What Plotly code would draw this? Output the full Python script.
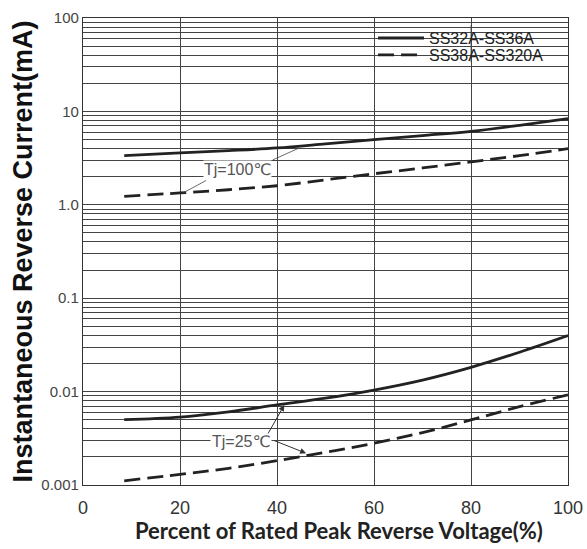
import plotly.graph_objects as go
import numpy as np

# Percent of rated peak reverse voltage
x_pct = [8.5, 20, 30, 40, 50, 60, 70, 80, 90, 100]

# Instantaneous reverse current (mA)
ss32_100 = [3.36, 3.59, 3.80, 4.06, 4.49, 4.99, 5.51, 6.12, 7.10, 8.37]
ss38_100 = [1.23, 1.34, 1.45, 1.60, 1.85, 2.15, 2.48, 2.88, 3.36, 3.99]
ss32_25 = [0.0050, 0.00532, 0.00606, 0.0072, 0.0085, 0.0104, 0.0133, 0.0182, 0.0264, 0.0398]
ss38_25 = [0.00111, 0.0013, 0.00151, 0.00182, 0.00224, 0.0028, 0.00364, 0.00497, 0.0069, 0.00922]

series_names = ["SS32A-SS36A", "SS38A-SS320A"]

x_ticks = [0, 20, 40, 60, 80, 100]
y_major = [0.001, 0.01, 0.1, 1, 10, 100]
y_major_text = ["0.001", "0.01", "0.1", "1.0", "10", "100"]

# grid values: every 1..9 within each decade
y_grid = []
y_grid_text = []
for d in range(-3, 2):
    for m in range(1, 10):
        v = m * 10.0 ** d
        y_grid.append(v)
        y_grid_text.append(y_major_text[y_major.index(v)] if m == 1 else "")
y_grid.append(100)
y_grid_text.append("100")

LC = "#222222"
DASH = "16px,7px"
fig = go.Figure()
fig.add_trace(go.Scatter(x=x_pct, y=ss32_100, mode="lines", name=series_names[0], legend="legend",
                         line=dict(color=LC, width=2.8, shape="spline")))
fig.add_trace(go.Scatter(x=x_pct, y=ss38_100, mode="lines", name=series_names[1], legend="legend2",
                         line=dict(color=LC, width=2.8, shape="spline", dash=DASH)))
fig.add_trace(go.Scatter(x=x_pct, y=ss32_25, mode="lines", showlegend=False,
                         line=dict(color=LC, width=2.8, shape="spline")))
fig.add_trace(go.Scatter(x=x_pct, y=ss38_25, mode="lines", showlegend=False,
                         line=dict(color=LC, width=2.8, shape="spline", dash=DASH)))

# white area behind legend (covers grid)
fig.add_shape(type="rect", xref="paper", yref="paper", x0=0.602, x1=1.0, y0=0.905, y1=0.985,
              fillcolor="white", line=dict(width=0), layer="between")
fig.add_shape(type="line", xref="x", yref="paper", x0=80, x1=80, y0=0.905, y1=0.985,
              line=dict(color="#888888", width=1.2), layer="between")

ann_font = dict(family="Liberation Sans, Arial, DejaVu Sans", size=16, color="#555555")
# Tj=100 label and leaders
fig.add_annotation(x=31.9, y=0.376, text="Tj=100℃", showarrow=False, font=ann_font,
                   bgcolor="white", borderpad=0)
fig.add_annotation(x=44.6, y=0.609, ax=38.8, ay=0.473, axref="x", ayref="y",
                   text="", showarrow=True, arrowhead=0, arrowwidth=0.8, arrowcolor="#444")
fig.add_annotation(x=20.6, y=0.126, ax=25.7, ay=0.269, axref="x", ayref="y",
                   text="", showarrow=True, arrowhead=0, arrowwidth=0.8, arrowcolor="#444")
# Tj=25 label and arrows
fig.add_annotation(x=32.5, y=-2.536, text="Tj=25℃", showarrow=False, font=ann_font,
                   bgcolor="white", borderpad=1)
fig.add_annotation(x=41.5, y=-2.143, ax=38.0, ay=-2.464, axref="x", ayref="y",
                   text="", showarrow=True, arrowhead=2, arrowsize=1.2, arrowwidth=1, arrowcolor="#333")
fig.add_annotation(x=46.0, y=-2.660, ax=39.1, ay=-2.518, axref="x", ayref="y",
                   text="", showarrow=True, arrowhead=2, arrowsize=1.2, arrowwidth=1, arrowcolor="#333")

# x-axis title (placed slightly right of center as in the reference)
fig.add_annotation(xref="paper", yref="paper", x=0.528, y=-0.098, yanchor="middle",
                   text="<b>Percent of Rated Peak Reverse Voltage(%)</b>", showarrow=False,
                   font=dict(family="Lato, Open Sans", size=22, color="#222"))

leg_common = dict(xanchor="left", yanchor="middle", bgcolor="rgba(0,0,0,0)",
                  font=dict(family="Liberation Sans, Arial", size=16, color="#222"),
                  itemwidth=46)

fig.update_layout(
    width=587, height=549,
    margin=dict(l=83, r=19, t=18, b=64),
    paper_bgcolor="white", plot_bgcolor="white",
    font=dict(family="Liberation Sans, Arial", color="#333333"),
    legend=dict(x=0.598, y=0.957, **leg_common),
    legend2=dict(x=0.598, y=0.921, **leg_common),
    xaxis=dict(range=[0, 100], tickvals=x_ticks, ticktext=[str(v) for v in x_ticks],
               showgrid=True, gridcolor="#444444", gridwidth=1, zeroline=False, automargin=False,
               showline=True, linecolor="#333333", linewidth=1.2, mirror=True,
               ticks="", ticklabelstandoff=6, tickfont=dict(size=18, color="#333333")),
    yaxis=dict(type="log", range=[-3, 2], tickvals=y_grid, ticktext=y_grid_text,
               showgrid=True, gridcolor="#444444", gridwidth=1, zeroline=False, automargin=False,
               showline=True, linecolor="#333333", linewidth=1.2, mirror=True,
               ticks="", tickfont=dict(size=15, color="#444444"),
               title=dict(text="<b>Instantaneous Reverse Current(mA)</b>",
                          font=dict(family="Liberation Sans, Arial", size=27, color="#111"), standoff=0)),
)

fig.write_html("out.html", post_script="document.body.style.margin='0';",
               config={"displayModeBar": False})
